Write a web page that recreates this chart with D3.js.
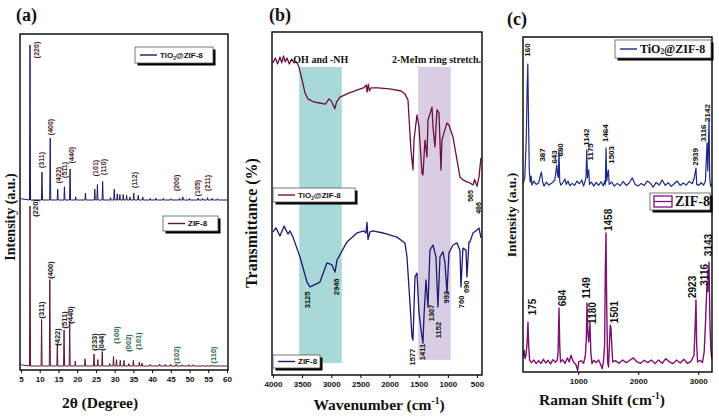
<!DOCTYPE html>
<html>
<head>
<meta charset="utf-8">
<script src="https://cdn.jsdelivr.net/npm/d3@7"></script>
<style>
  body { margin: 0; background: #fff; }
  svg { display: block; }
</style>
</head>
<body>
<svg id="fig" width="719" height="417"></svg>
<script>
// ---------- (a) XRD: peaks [2theta, relative height] ----------
const xrdTiPeaks = [[7.4,100],[10.6,18],[12.8,40],[14.8,7],[16.6,8.5],[18.1,20],[19.6,2],[22.2,4.5],
  [24.7,7],[25.4,10],[26.8,12],[28.9,1.5],[29.9,7],[30.7,4],[31.4,3.5],[32.3,3.5],[33.2,3],[34.1,2],
  [35.1,4.5],[36.3,3],[37.5,2],[39.5,1],[41,1.2],[43,1],[45,0.8],[47.3,1],[48.2,2],[50,1],[52.3,1.2],
  [53.5,1],[54.8,1.5],[56,1],[57.5,0.8]];
const xrdZifPeaks = [[7.4,100],[10.5,29],[12.7,54],[14.7,14],[16.5,22.5],[18.0,28],[19.5,3],[22.1,4.5],
  [24.5,7.5],[25.5,4],[26.7,9],[28.7,1.5],[29.7,6],[30.5,4],[31.5,3.5],[32.5,3.5],[33.8,1.5],[35.0,3.5],
  [36.6,2.5],[37.3,1.8],[39.5,1],[42,1.2],[43.5,1],[45,1],[46.4,1],[48,0.8],[49.8,0.8],[51,0.8],
  [53.5,0.5],[56,0.6]];
const xrdTiLabels = [["(220)",9.27,96.8],["(311)",10.6,25.8],["(400)",13.0,47.1],["(422)",14.9,16.1],
  ["(511)",16.7,19.4],["(440)",18.35,29],["(101)",25.0,20.6],["(110)",26.9,21.3],["(112)",35.2,12.9],
  ["(200)",46.4,11],["(105)",52.0,7.7],["(211)",54.9,11]];
const xrdZifLabels = [["(220)",9.0,98.8],["(311)",10.5,35],["(400)",12.9,60],["(422)",14.75,18.1],
  ["(511)",16.5,28.8],["(440)",18.3,31.9],["(233)",24.5,15],["(044)",26.6,15]];
const xrdTiO2Labels = [["(100)",30.4,19.4],["(002)",33.8,14.4],["(101)",36.5,15.6],["(102)",46.4,6.9],["(110)",56.5,6.9]];
const xrdTicks = [5,10,15,20,25,30,35,40,45,50,55,60];

// ---------- (b) FTIR: traced points [wavenumber, T] ----------
const ftirTi = [[4000,91],[3960,92.4],[3920,90.7],[3880,92.7],[3850,91],[3820,93],[3790,91.3],[3760,92.4],
  [3720,90.7],[3680,92.1],[3640,91],[3600,91.3],[3560,90.1],[3500,86],[3450,82.2],[3400,80.5],[3300,79.6],
  [3200,79.3],[3100,79],[3040,80.5],[3000,79.9],[2960,78.4],[2940,77.6],[2910,79.6],[2850,81],[2700,82.2],
  [2550,83.1],[2450,83.7],[2400,84.5],[2385,82.5],[2365,84.8],[2345,82.8],[2320,83.7],[2200,83.7],
  [2000,83.4],[1800,82.8],[1736,81.9],[1684,80.2],[1633,65.6],[1598,59.8],[1581,68.5],[1530,75.8],
  [1495,72.3],[1444,58.9],[1427,58.3],[1392,68.5],[1358,63.6],[1341,74.3],[1272,78.1],[1255,72.3],
  [1221,66.5],[1187,77.3],[1152,76.4],[1118,59.8],[1101,68.5],[1067,70.6],[1015,73.5],[981,72.9],
  [912,69.4],[843,62.7],[792,57.7],[741,56.9],[672,56.3],[620,56],[569,55.4],[540,57],[500,55],
  [466,57.7],[432,63.3]];
const ftirZif = [[4000,41.7],[3949,42.9],[3880,40.5],[3811,43.4],[3743,41.1],[3708,42],[3657,40.2],
  [3537,34.4],[3417,27.1],[3365,25.7],[3194,27.1],[3074,32.7],[2988,32.1],[2936,30],[2902,33.5],
  [2731,38.8],[2559,41.4],[2439,42],[2405,41.4],[2387,44.5],[2370,39.5],[2336,41.7],[2285,42],
  [2113,41.4],[1873,40.2],[1736,38.5],[1701,34.4],[1650,21],[1615,11.1],[1598,10.2],[1564,28.6],
  [1530,29.7],[1495,18.1],[1444,11.1],[1427,9.3],[1410,16.9],[1375,27.7],[1341,19.8],[1307,36.4],
  [1255,37.9],[1204,34.4],[1170,19.8],[1135,34.4],[1084,35.9],[1049,32.7],[1015,23.9],[981,35.6],
  [912,37.9],[843,38.5],[792,36.4],[775,25.7],[741,37],[689,36.4],[672,28.6],[638,38.8],[620,38.8],
  [569,41.4],[500,42.3],[466,42.9],[432,40]];
const ftirZifLabels = [["3125",3400,21.9],["2946",2902,25.7],["1577",1598,5.2],["1411",1427,6.7],
  ["1307",1272,18.1],["1152",1152,13.1],["992",1015,22.7],["760",758,21.3],["690",672,25.7]];
const ftirTiLabels = [["565",603,52.2],["486",466,48.7]];
const ftirBands = [[3550,2820,89.8,3.5],[1510,950,89.8,4.4]];
const ftirTicks = [4000,3500,3000,2500,2000,1500,1000,500];

// ---------- (c) Raman: traced points [shift, intensity] ----------
const ramanTi = [[85,56.4],[110,58],[135,70],[150,85],[160,91.9],[172,75],[185,60],[200,56.7],[215,58.5],
  [230,55.8],[260,57],[300,56],[340,56.5],[370,58.5],[387,59.7],[405,57],[430,55.5],[470,56.7],[510,55.8],
  [560,56.4],[610,57.3],[630,60],[643,61.8],[655,59],[668,58],[680,65.7],[692,57],[710,55.8],[740,56.4],
  [780,57.6],[800,56],[830,57],[860,55.6],[900,56.3],[940,55.7],[980,57],[1020,56.2],[1060,57.3],
  [1090,55.5],[1115,57],[1130,58],[1142,66.3],[1155,58],[1165,60],[1175,60.3],[1188,56],[1220,56.7],
  [1260,55.5],[1300,56.6],[1340,55.7],[1380,56.8],[1420,55.5],[1440,57],[1452,56],[1464,66.9],
  [1476,57],[1490,59],[1503,60.3],[1516,56],[1560,56.7],[1600,55.5],[1650,56.3],[1700,55.6],
  [1750,56.9],[1800,55.7],[1850,56.4],[1900,58],[1950,56],[2000,55.5],[2050,56.3],[2100,55.7],
  [2150,57],[2200,56.4],[2250,55.2],[2300,56.6],[2350,55.8],[2400,57.3],[2450,55.7],[2500,56.5],
  [2550,55.4],[2600,56.2],[2650,57],[2700,55.7],[2750,56.4],[2800,55.8],[2850,56.9],[2900,56.2],
  [2935,58],[2963,60.9],[2975,56],[3010,55.7],[3050,56.5],[3090,55.8],[3120,57],[3147,68.4],
  [3160,60],[3180,75.2],[3192,58],[3205,55.5],[3225,56]];
const ramanZif = [[85,4.5],[100,6.5],[115,4],[130,5],[150,9],[163,14.9],[175,8],[190,3.5],[220,2.8],
  [260,3.6],[300,2.5],[340,3.4],[380,2.6],[420,3.8],[460,2.7],[500,3.5],[540,2.4],[580,3.7],[620,2.9],
  [650,3.5],[665,6],[680,19.1],[692,8],[705,3],[740,3.7],[780,2.6],[820,4.2],[850,3],[880,5],[920,3],
  [960,2.3],[990,0.5],[1010,3],[1050,3.4],[1090,2.6],[1120,5],[1135,10],[1147,20.6],[1160,12],
  [1175,9],[1197,14.6],[1210,6],[1230,2.5],[1260,3.5],[1300,2.8],[1340,3.6],[1380,2],[1400,1],
  [1420,3],[1440,8],[1452,30],[1463,41.5],[1475,20],[1490,3],[1505,1.5],[1520,8],[1535,14],
  [1547,13],[1560,8],[1575,3],[1620,3.4],[1680,2.6],[1740,3.6],[1800,2.8],[1860,3.5],[1920,4.2],
  [1980,3],[2040,2.6],[2100,3.5],[2160,2.8],[2220,3.6],[2280,2.5],[2340,3.6],[2400,2.6],[2460,4],
  [2520,3],[2580,2.5],[2640,3.6],[2700,2.7],[2760,3.8],[2820,2.6],[2880,3.2],[2930,5],[2950,14],
  [2963,21.5],[2975,8],[2990,3],[3030,3.5],[3070,2.8],[3100,6],[3120,14],[3147,26.6],[3160,24],
  [3180,32.8],[3195,15],[3210,7],[3225,4]];
const ramanTiLabels = [["160",163,96.1],["387",397,64.8],["643",597,64.2],["680",697,66.3],
  ["1142",1130,70.1],["1175",1213,65.7],["1464",1447,71.3],["1503",1547,64.8],["2939",2947,64.2],
  ["3116",3080,71.3],["3142",3147,77.3]];
const ramanZifLabels = [["175",230,19.4],["684",730,22.1],["1149",1130,25.1],["1180",1230,17.6],
  ["1458",1497,45.4],["1501",1597,17.9],["2923",2897,25.4],["3116",3097,29],["3143",3164,37.9]];
const ramanTicks = [1000,2000,3000];

// ---------- drawing ----------
const svg = d3.select("#fig");
const SERIF = "'Liberation Serif','Times New Roman',serif";
const SANS = "'Liberation Sans',Arial,sans-serif";

// sticks for the narrow XRD reflections
function sticks(peaks, lo, hi) {
  const pts = [[lo, 0.8]];
  peaks.forEach(([p, h]) => pts.push([p - 0.14, 0], [p, h], [p + 0.14, 0]));
  pts.push([hi, 0]);
  return pts;
}

function drawLine(xs, ys, pts, color, w) {
  svg.append("path").datum(pts)
    .attr("d", d3.line().x(d => xs(d[0])).y(d => ys(d[1])))
    .attr("fill", "none").attr("stroke", color).attr("stroke-width", w)
    .attr("stroke-linejoin", "round");
}

function vLabels(xs, ys, labels, color, size) {
  labels.forEach(([t, at, v]) => {
    svg.append("text")
      .attr("transform", `translate(${xs(at)},${ys(v)}) rotate(-90)`)
      .attr("text-anchor", "middle").attr("dominant-baseline", "central")
      .attr("font-family", SANS).attr("font-weight", "bold").attr("font-size", size)
      .attr("fill", color).text(t);
  });
}

function frame(x0, y0, x1, y1) {
  svg.append("rect").attr("x", x0).attr("y", y0).attr("width", x1 - x0).attr("height", y1 - y0)
    .attr("fill", "none").attr("stroke", "#000").attr("stroke-width", 1.4);
}

function bottomAxis(xs, y, ticks) {
  const g = svg.append("g").attr("transform", `translate(0,${y})`)
    .call(d3.axisBottom(xs).tickValues(ticks).tickSize(3).tickPadding(3).tickFormat(d3.format("d")));
  g.select(".domain").remove();
  g.selectAll("line").attr("stroke", "#000").attr("stroke-width", 1);
  g.selectAll("text").attr("font-family", SANS).attr("font-weight", "bold")
    .attr("font-size", 8).attr("fill", "#111");
}

function legend(x, y, w, h, color, name, serif, size, boxIcon) {
  svg.append("rect").attr("x", x + 2.5).attr("y", y + 2.5).attr("width", w).attr("height", h).attr("fill", "#000");
  svg.append("rect").attr("x", x).attr("y", y).attr("width", w).attr("height", h)
    .attr("fill", "#fff").attr("stroke", "#555").attr("stroke-width", 0.8);
  if (boxIcon) {
    svg.append("rect").attr("x", x + 4).attr("y", y + 3).attr("width", 18).attr("height", h - 6)
      .attr("fill", "#fff").attr("stroke", color).attr("stroke-width", 1.3);
    svg.append("line").attr("x1", x + 4).attr("x2", x + 22).attr("y1", y + h / 2).attr("y2", y + h / 2)
      .attr("stroke", color).attr("stroke-width", 1.3);
  } else {
    svg.append("line").attr("x1", x + 5).attr("x2", x + 22).attr("y1", y + h / 2).attr("y2", y + h / 2)
      .attr("stroke", color).attr("stroke-width", 1.4);
  }
  const t = svg.append("text").attr("x", x + 25).attr("y", y + h / 2).attr("dominant-baseline", "central")
    .attr("font-family", serif ? SERIF : SANS).attr("font-weight", "bold").attr("font-size", size).attr("fill", "#111");
  if (name.includes("@")) {
    t.append("tspan").text("TiO");
    t.append("tspan").attr("font-size", size * 0.6).attr("dy", 3).text("2");
    t.append("tspan").attr("dy", -3).text("@ZIF-8");
  } else t.text(name);
}

function title(x, y, s) {
  svg.append("text").attr("x", x).attr("y", y).attr("font-family", SERIF).attr("font-weight", "bold")
    .attr("font-size", 18).attr("fill", "#111").text(s);
}

function yTitle(x, y, s, size) {
  svg.append("text").attr("transform", `translate(${x},${y}) rotate(-90)`).attr("text-anchor", "middle")
    .attr("font-family", SERIF).attr("font-weight", "bold").attr("font-size", size).attr("fill", "#111").text(s);
}

function xTitle(x, y, s, sup) {
  const t = svg.append("text").attr("x", x).attr("y", y).attr("text-anchor", "middle")
    .attr("font-family", SERIF).attr("font-weight", "bold").attr("font-size", 15.5).attr("fill", "#111");
  t.append("tspan").text(s);
  if (sup) {
    t.append("tspan").attr("font-size", 9.5).attr("dy", -6).text("-1");
    t.append("tspan").attr("dy", 6).text(")");
  }
}

// ---- panel (a)
const xa = d3.scaleLinear().domain([5, 60]).range([21, 227]);
const yaTop = d3.scaleLinear().domain([0, 100]).range([200, 45]);
const yaBot = d3.scaleLinear().domain([0, 100]).range([366, 206]);
drawLine(xa, yaTop, sticks(xrdTiPeaks, 5, 60), "#1c1c5c", 1);
drawLine(xa, yaBot, sticks(xrdZifPeaks, 5, 60), "#5e1634", 1);
vLabels(xa, yaTop, xrdTiLabels, "#4a1b22", 7);
vLabels(xa, yaBot, xrdZifLabels, "#222", 7.5);
vLabels(xa, yaBot, xrdTiO2Labels, "#2f6d4c", 7.5);
frame(20, 34, 228, 370);
bottomAxis(xa, 370, xrdTicks);
legend(135, 47, 78, 16, "#1c1c5c", "TiO2@ZIF-8", false, 8);
legend(163, 216, 55, 15, "#5e1634", "ZIF-8", false, 8);
title(16, 21, "(a)");
yTitle(15, 217, "Intensity (a.u.)", 14);
xTitle(100, 408, "2θ (Degree)");

// ---- panel (b)
const xb = d3.scaleLinear().domain([4000, 414]).range([273, 482]);
const yb = d3.scaleLinear().domain([0, 100]).range([375, 32]);
const bandColors = ["#a9d9d6", "#d9cde3"];
ftirBands.forEach(([a, b, top, bot], i) => {
  svg.append("rect").attr("x", xb(a)).attr("y", yb(top)).attr("width", xb(b) - xb(a))
    .attr("height", yb(bot) - yb(top)).attr("fill", bandColors[i]);
});
drawLine(xb, yb, ftirTi, "#6a1042", 1.3);
drawLine(xb, yb, ftirZif, "#1b1b72", 1.3);
vLabels(xb, yb, ftirZifLabels, "#111", 7.5);
vLabels(xb, yb, ftirTiLabels, "#111", 7);
frame(272, 32, 482, 375);
bottomAxis(xb, 375, ftirTicks);
svg.append("text").attr("x", 290).attr("y", 63).attr("font-family", SERIF).attr("font-weight", "bold")
  .attr("font-size", 10).attr("fill", "#111").text("-OH and -NH");
svg.append("text").attr("x", 392).attr("y", 63).attr("font-family", SERIF).attr("font-weight", "bold")
  .attr("font-size", 10).attr("fill", "#111").text("2-MeIm ring stretch.");
legend(273, 188, 82, 14, "#6a1042", "TiO2@ZIF-8", false, 8);
legend(273, 355, 47, 13, "#1b1b72", "ZIF-8", false, 8);
title(269, 21, "(b)");
yTitle(257, 223, "Transmittance (%)", 16);
xTitle(379, 410, "Wavenumber (cm", true);

// ---- panel (c)
const xc = d3.scaleLinear().domain([80, 3230]).range([523, 712]);
const yc = d3.scaleLinear().domain([0, 100]).range([372, 37]);
drawLine(xc, yc, ramanTi, "#1c2a86", 1.2);
drawLine(xc, yc, ramanZif, "#7c1272", 1.4);
vLabels(xc, yc, ramanTiLabels, "#111", 8);
vLabels(xc, yc, ramanZifLabels, "#111", 10);
frame(523, 37, 712, 372);
bottomAxis(xc, 372, ramanTicks);
legend(615, 40, 96, 18, "#1c2a86", "TiO2@ZIF-8", true, 12);
legend(650, 193, 60, 17, "#7c1272", "ZIF-8", true, 14, true);
title(507, 25, "(c)");
yTitle(516, 215, "Intensity (a.u.)", 13.5);
xTitle(602, 405, "Raman Shift (cm", true);
</script>
</body>
</html>
